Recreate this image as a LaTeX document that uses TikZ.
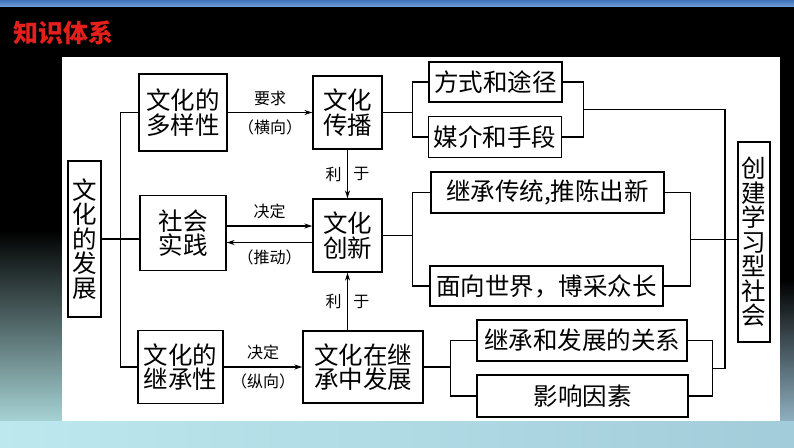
\documentclass[tikz,border=0pt]{standalone}
\usepackage{fontspec}
\usepackage{tikz}
\usetikzlibrary{positioning,arrows.meta,calc}
\newfontfamily\cjk{Noto Sans CJK SC}
\definecolor{kRed}{HTML}{E3201B}
\definecolor{kBlue}{HTML}{3F72B8}
\definecolor{kSky}{HTML}{6A9BD6}
\definecolor{kTeal}{HTML}{A6D2D4}
\definecolor{kMist}{HTML}{52706E}
\definecolor{kCyan}{HTML}{BDE8EE}
\definecolor{kSea}{HTML}{A3CCDA}
\definecolor{kSteel}{HTML}{8FB0C0}

\begin{document}
\begin{tikzpicture}[x=1pt,y=-1pt,
  box/.style={draw,line width=1.3pt,inner sep=0pt,align=center,
    font=\cjk\fontsize{24.5}{24.5}\selectfont},
  vbox/.style={box,text width=25pt},
  lab/.style={font=\cjk\fontsize{16}{18}\selectfont},
  link/.style={line width=1.3pt},
  arr/.style={link,-{Stealth[length=8pt,width=5pt]}}]
\useasboundingbox (0,0) rectangle (794,447);

% background
\fill[black] (0,0) rectangle (794,447);
\shade[top color=kBlue,bottom color=kSky] (0,0) rectangle (794,6);
\shade[top color=black,middle color=kMist,bottom color=kTeal] (0,230) rectangle (62,421);
\shade[top color=black,bottom color=kSteel] (780,280) rectangle (794,421);
\shade[left color=kCyan,right color=kSea] (0,421) rectangle (794,447);
\fill[white] (62,57) rectangle (780,421);

\node[anchor=west,text=kRed,font=\cjk\bfseries\fontsize{25}{27}\selectfont] (title) at (10,33) {知识体系};

% boxes
\node[vbox,minimum width=33pt,minimum height=156pt] (fazhan) at (84.5,239) {文\\化\\的\\发\\展};
\node[box,minimum width=88pt,minimum height=77pt] (duoyang) at (183,112.5) {文化的\\多样性};
\node[box,minimum width=86pt,minimum height=75pt] (shijian) at (183,233) {社会\\实践};
\node[box,minimum width=85pt,minimum height=73pt] (jicheng) at (180.5,367) {文化的\\继承性};
\node[box,minimum width=69pt,minimum height=73pt] (chuanbo) at (347.5,112.5) {文化\\传播};
\node[box,minimum width=69pt,minimum height=73pt] (chuangxin) at (347.5,235.5) {文化\\创新};
\node[box,minimum width=120pt,minimum height=72pt] (zhongfa) at (363,367) {文化在继\\承中发展};
\node[box,minimum width=133pt,minimum height=40pt] (fangshi) at (495.5,82) {方式和途径};
\node[box,minimum width=133pt,minimum height=41pt] (meijie) at (495,137) {媒介和手段};
\node[box,minimum width=233pt,minimum height=41pt] (chuantong) at (547.5,192.5) {继承传统,推陈出新};
\node[box,minimum width=233pt,minimum height=40pt] (shijie) at (546.5,286) {面向世界，博采众长};
\node[box,minimum width=210pt,minimum height=41pt] (guanxi) at (582,340.5) {继承和发展的关系};
\node[box,minimum width=211pt,minimum height=42pt] (yinsu) at (582.5,396) {影响因素};
\node[vbox,minimum width=32pt,minimum height=200pt] (xuexi) at (754,242) {创\\建\\学\\习\\型\\社\\会};

% left trunk
\draw[link] (duoyang.west) -- ++(-18,0) |- (jicheng.west);
\draw[link] (fazhan.east) -- (fazhan.east -| shijian.west);

% arrows with labels
\draw[arr] (duoyang.east) -- (duoyang.east -| chuanbo.west)
  node[lab,midway,above=3pt] {要求} node[lab,midway,below=3pt] {（横向）};
\draw[arr] ([yshift=7pt]shijian.east) -- ([yshift=7pt]shijian.east -| chuangxin.west)
  node[lab,midway,above=3pt] {决定};
\draw[arr] ([yshift=-7pt]chuangxin.west) -- ([yshift=-7pt]chuangxin.west -| shijian.east)
  node[lab,midway,below=3pt] {（推动）};
\draw[arr] (jicheng.east) -- (jicheng.east -| zhongfa.west)
  node[lab,midway,above=3pt] {决定} node[lab,midway,below=3pt] {（纵向）};
\draw[arr] (chuanbo.south) -- (chuangxin.north)
  node[lab,midway,left=2pt] {利} node[lab,midway,right=2pt] {于};
\draw[arr] (chuangxin.south |- zhongfa.north) -- (chuangxin.south)
  node[lab,midway,left=2pt] {利} node[lab,midway,right=2pt] {于};

% brackets
\draw[link] (fangshi.west) -- ++(-16,0) coordinate (bl1) |- (meijie.west);
\draw[link] (chuanbo.east) -- (chuanbo.east -| bl1);
\draw[link] (fangshi.east) -- ++(21,0) coordinate (br1) |- (meijie.east);
\draw[link] (chuantong.west) -- ++(-18,0) coordinate (bl2) |- (shijie.west);
\draw[link] (chuangxin.east) -- (chuangxin.east -| bl2);
\draw[link] (chuantong.east) -- ++(26,0) coordinate (br2) |- (shijie.east);
\draw[link] (guanxi.west) -- ++(-26,0) coordinate (bl3) |- (yinsu.west);
\draw[link] (zhongfa.east) -- (zhongfa.east -| bl3);
\draw[link] (guanxi.east) -- ++(25,0) coordinate (br3) |- (yinsu.east);

% right trunk
\coordinate (trunk) at (725,0);
\coordinate (m1) at ($(br1)!0.5!(br1 |- meijie.east)$);
\coordinate (m2) at ($(br2)!0.5!(br2 |- shijie.east)$);
\coordinate (m3) at ($(br3)!0.5!(br3 |- yinsu.east)$);
\draw[link] (m1) -| (trunk |- m3) -- (m3);
\draw[link] (m2) -- (m2 -| xuexi.west);
\end{tikzpicture}
\end{document}
